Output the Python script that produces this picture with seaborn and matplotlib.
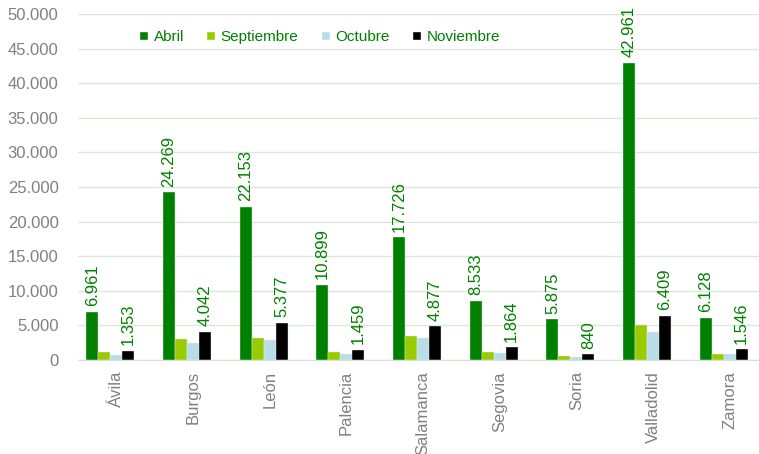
import pandas as pd
import matplotlib.pyplot as plt
import seaborn as sns
from matplotlib.patches import Patch
from matplotlib.ticker import FuncFormatter

# Data
provincias = ['Ávila', 'Burgos', 'León', 'Palencia', 'Salamanca',
              'Segovia', 'Soria', 'Valladolid', 'Zamora']
abril = [6961, 24269, 22153, 10899, 17726, 8533, 5875, 42961, 6128]
septiembre = [1160, 3040, 3230, 1160, 3520, 1200, 580, 5120, 910]
octubre = [770, 2500, 2900, 910, 3140, 1010, 390, 4100, 830]
noviembre = [1353, 4042, 5377, 1459, 4877, 1864, 840, 6409, 1546]
meses = ['Abril', 'Septiembre', 'Octubre', 'Noviembre']
yticks = list(range(0, 50001, 5000))

colores = {'Abril': '#008000', 'Septiembre': '#99cc00',
           'Octubre': '#b7dee8', 'Noviembre': '#000000', ' ': '#ffffff'}

df = pd.DataFrame({'Provincia': provincias * 4,
                   'Mes': [m for m in meses for _ in provincias],
                   'Valor': abril + septiembre + octubre + noviembre})

def miles(v, pos=None):
    return f"{int(v):,}".replace(",", ".")

sns.set_style("white")
plt.rcParams['font.family'] = ['Liberation Sans', 'DejaVu Sans']

fig = plt.figure(figsize=(7.59, 4.54), dpi=100)
ax = fig.add_axes([78 / 759, 94 / 454, 690 / 759, 346 / 454])

# the empty fifth slot mimics the spacing of the original Excel chart
sns.barplot(data=df, x='Provincia', y='Valor', hue='Mes',
            hue_order=meses + [' '], palette=colores, width=0.78,
            saturation=1, edgecolor='#e8e8e8', linewidth=0.3,
            legend=False, ax=ax)

verde = '#008000'
for idx, valores in [(0, abril), (3, noviembre)]:
    ax.bar_label(ax.containers[idx], labels=[miles(v) for v in valores],
                 rotation=90, padding=4, color=verde, fontsize=12)

ax.set_ylim(0, 50000)
ax.set_xlim(-0.5, 8.5)
ax.set_yticks(yticks)
ax.yaxis.set_major_formatter(FuncFormatter(miles))
ax.tick_params(axis='y', colors='#808080', labelsize=12, length=0, pad=14)
ax.tick_params(axis='x', colors='#808080', labelsize=12, length=0,
               labelrotation=90, pad=8)
ax.set_xlabel('')
ax.set_ylabel('')
ax.grid(axis='y', color='#dbe7db', linewidth=1)
ax.set_axisbelow(True)
for s in ['top', 'right', 'left']:
    ax.spines[s].set_visible(False)
ax.spines['bottom'].set_color('#d3e3d3')

handles = [Patch(facecolor=colores[m], label=m) for m in meses]
leg = ax.legend(handles=handles, loc='center', bbox_to_anchor=(0.35, 0.934),
                ncol=4, frameon=False, fontsize=11, handlelength=0.6,
                handleheight=0.6, handletextpad=0.35, columnspacing=1.45)
for t in leg.get_texts():
    t.set_color(verde)

plt.savefig('out.png', dpi=100)
